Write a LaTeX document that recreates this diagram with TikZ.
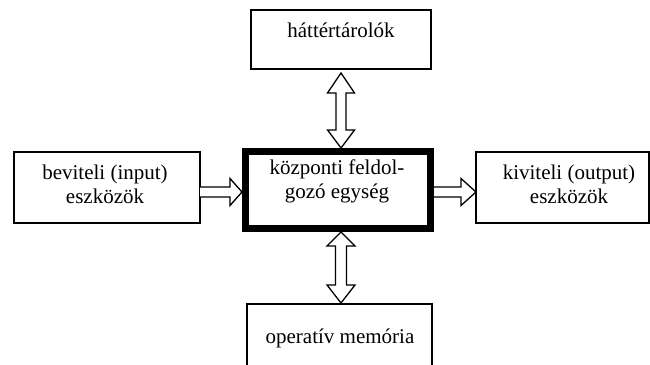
\documentclass[tikz,border=0pt]{standalone}
\usepackage{fontspec}
\setmainfont{Liberation Serif}
\usetikzlibrary{calc}
\newcommand\twolines[2]{\begin{tabular}[t]{@{}c@{}}#1\\#2\end{tabular}}
\tikzset{
  box/.style={draw, line width=1.3pt, rectangle, inner sep=0pt, outer sep=0pt},
  cpubox/.style={draw, line width=7pt, rectangle, inner sep=0pt, outer sep=0pt},
  lbl/.style={inner sep=0pt, outer sep=0pt, anchor=base, font=\fontsize{21}{24}\selectfont},
  blockarrow/.style={draw, line width=1.3pt, fill=white, line join=miter}
}
\begin{document}
\begin{tikzpicture}[x=1pt,y=1pt]
\useasboundingbox (0,0) rectangle (650,364);
% boxes
\node[box, minimum width=180pt, minimum height=59pt] (top) at (341,324.5) {};
\node[box, minimum width=186pt, minimum height=71pt] (in) at (107,176.5) {};
\node[box, minimum width=173pt, minimum height=71pt] (out) at (562.5,176.5) {};
\node[cpubox, minimum width=185pt, minimum height=77pt] (cpu) at (338,174) {};
\node[box, minimum width=185pt, minimum height=80pt] (mem) at (339.5,20) {};
% labels
\node[lbl] (topl) at (341,326) {háttértárolók};
\node[lbl] (inl) at (105,184) {\twolines{beviteli (input)}{eszközök}};
\node[lbl] (cpul) at (337,189) {\twolines{központi feldol-}{gozó egység}};
\node[lbl] (outl) at (569,184) {\twolines{kiviteli (output)}{eszközök}};
\node[lbl] (meml) at (340,21) {operatív memória};
% vertical double arrow top <-> cpu
\draw[blockarrow] let \p1=($(top.south)+(0,-4)$), \p2=($(cpu.north)+(3,3.5)$) in
  (\x1,\y1) -- (\x1+13.5pt,\y1-20pt) -- (\x1+5pt,\y1-20pt) -- (\x1+5pt,\y2+18pt)
  -- (\x1+13.5pt,\y2+18pt) -- (\x1,\y2) -- (\x1-13.5pt,\y2+18pt) -- (\x1-5pt,\y2+18pt)
  -- (\x1-5pt,\y1-20pt) -- (\x1-13.5pt,\y1-20pt) -- cycle;
% vertical double arrow cpu <-> memory
\draw[blockarrow] let \p1=($(cpu.south)+(3,-3.5)$), \p2=($(mem.north)+(1.5,1)$) in
  (\x1,\y1) -- (\x1+14pt,\y1-14pt) -- (\x1+5.5pt,\y1-14pt) -- (\x1+5.5pt,\y2+18pt)
  -- (\x1+14pt,\y2+18pt) -- (\x1,\y2) -- (\x1-14pt,\y2+18pt) -- (\x1-5.5pt,\y2+18pt)
  -- (\x1-5.5pt,\y1-14pt) -- (\x1-14pt,\y1-14pt) -- cycle;
% horizontal arrow input -> cpu
\draw[blockarrow] let \p1=($(in.east)+(0,-4.5)$), \p2=($(cpu.west)+(-3.5,-2)$) in
  (\x1,\y1+5pt) -- (\x2-12pt,\y1+5pt) -- (\x2-12pt,\y1+13.5pt) -- (\x2,\y1)
  -- (\x2-12pt,\y1-13.5pt) -- (\x2-12pt,\y1-5pt) -- (\x1,\y1-5pt);
% horizontal arrow cpu -> output
\draw[blockarrow] let \p1=($(cpu.east)+(3.5,-2)$), \p2=($(out.west)+(0,-4.5)$) in
  (\x1,\y1+5pt) -- (\x2-15pt,\y1+5pt) -- (\x2-15pt,\y1+13.5pt) -- (\x2,\y1)
  -- (\x2-15pt,\y1-13.5pt) -- (\x2-15pt,\y1-5pt) -- (\x1,\y1-5pt);
\end{tikzpicture}
\end{document}
